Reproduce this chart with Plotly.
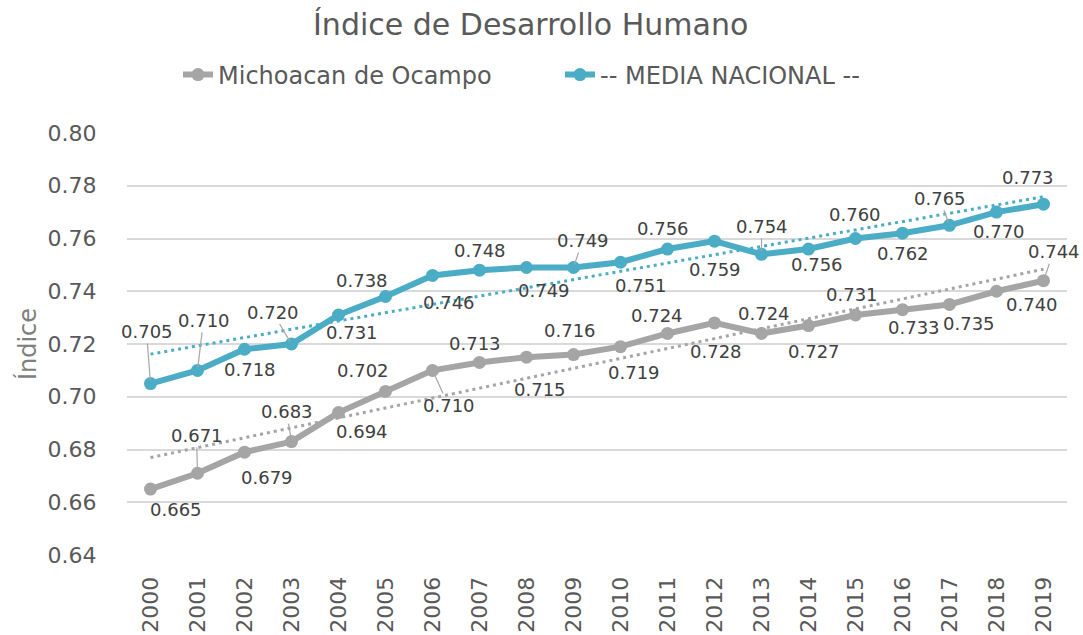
import numpy as np
import plotly.graph_objects as go

years = ["2000", "2001", "2002", "2003", "2004", "2005", "2006", "2007", "2008", "2009",
         "2010", "2011", "2012", "2013", "2014", "2015", "2016", "2017", "2018", "2019"]

michoacan = [0.665, 0.671, 0.679, 0.683, 0.694, 0.702, 0.710, 0.713, 0.715, 0.716,
             0.719, 0.724, 0.728, 0.724, 0.727, 0.731, 0.733, 0.735, 0.740, 0.744]

nacional = [0.705, 0.710, 0.718, 0.720, 0.731, 0.738, 0.746, 0.748, 0.749, 0.749,
            0.751, 0.756, 0.759, 0.754, 0.756, 0.760, 0.762, 0.765, 0.770, 0.773]

# data-label offsets (pixels, label centre relative to point; dy positive = down)
mich_dx = [25, -1, 22, -5, 23, -23, 16, -5, 13, -4, 13, -11, 1, 2, 5, -4, 11, 19, 35, 10]
mich_dy = [20, -38, 25, -30, 19, -21, 35, -19, 32, -24, 26, -18, 29, -20, 26, -20, 18, 19, 13, -29]
mich_leader = [0, 1, 0, 1, 0, 0, 1, 0, 0, 0, 0, 0, 0, 0, 0, 0, 0, 0, 0, 1]

nac_dx = [-4, 6, 5, -19, 13, -24, 16, 0, 17, 9, 20, -5, 0, 0, 8, -1, 0, -10, 2, -16]
nac_dy = [-52, -50, 20, -32, 18, -16, 27, -20, 23, -27, 23, -21, 28, -28, 15, -24, 20, -27, 19, -27]
nac_leader = [1, 1, 0, 1, 0, 0, 0, 0, 0, 1, 0, 0, 0, 1, 0, 0, 0, 1, 0, 0]

GRAY = "#A5A5A5"
BLUE = "#4BACC6"
FONT = "DejaVu Sans"

idx = np.arange(len(years))
mich_fit = np.polyval(np.polyfit(idx, michoacan, 1), idx)
nac_fit = np.polyval(np.polyfit(idx, nacional, 1), idx)

fig = go.Figure()
fig.add_trace(go.Scatter(x=years, y=michoacan, mode="lines+markers", name="Michoacan de Ocampo",
                         line=dict(color=GRAY, width=6), marker=dict(size=13, color=GRAY)))
fig.add_trace(go.Scatter(x=years, y=nacional, mode="lines+markers", name="-- MEDIA NACIONAL --",
                         line=dict(color=BLUE, width=6), marker=dict(size=13, color=BLUE)))
fig.add_trace(go.Scatter(x=years, y=mich_fit, mode="lines", showlegend=False, hoverinfo="skip",
                         line=dict(color=GRAY, width=3, dash="3px,4px")))
fig.add_trace(go.Scatter(x=years, y=nac_fit, mode="lines", showlegend=False, hoverinfo="skip",
                         line=dict(color=BLUE, width=3, dash="3px,4px")))

annotations = []
for vals, dxs, dys, leads in [(michoacan, mich_dx, mich_dy, mich_leader),
                              (nacional, nac_dx, nac_dy, nac_leader)]:
    for i, v in enumerate(vals):
        base = dict(x=i, y=v, text=f"{v:.3f}", xref="x", yref="y",
                    font=dict(family=FONT, size=18, color="#404040"))
        if leads[i]:
            base.update(showarrow=True, ax=dxs[i], ay=dys[i], arrowhead=0, arrowwidth=1.2,
                        arrowcolor="#A6A6A6", standoff=3)
        else:
            base.update(showarrow=False, xshift=dxs[i], yshift=-dys[i])
        annotations.append(base)

fig.update_layout(
    width=1083, height=635,
    margin=dict(l=127, r=16, t=133, b=80),
    paper_bgcolor="white", plot_bgcolor="white",
    font=dict(family=FONT, color="#595959"),
    title=dict(text="Índice de Desarrollo Humano", x=0.49, xanchor="center",
               y=1 - 24 / 635, yanchor="middle", yref="container",
               font=dict(family=FONT, size=30, color="#595959")),
    legend=dict(orientation="h", xref="container", yref="container",
                x=178 / 1083, xanchor="left", y=1 - 75 / 635, yanchor="middle",
                font=dict(family=FONT, size=24, color="#595959"),
                entrywidth=337, entrywidthmode="pixels",
                bgcolor="rgba(0,0,0,0)"),
    xaxis=dict(type="category", range=[-0.5, 19.5], tickangle=-90, showgrid=False,
               showline=False, zeroline=False, ticks="outside", ticklen=12,
               tickcolor="rgba(0,0,0,0)", automargin=False,
               tickfont=dict(family=FONT, size=22, color="#595959")),
    yaxis=dict(range=[0.64, 0.80], dtick=0.02, tickformat=".2f", showgrid=True,
               gridcolor="#D9D9D9", gridwidth=1.5, zeroline=False, showline=False,
               ticks="outside", ticklen=25, tickcolor="rgba(0,0,0,0)", automargin=False,
               tickfont=dict(family=FONT, size=22, color="#595959"),
               title=dict(text="Índice", standoff=4,
                          font=dict(family=FONT, size=24, color="#7F7F7F"))),
    annotations=annotations,
)

fig.write_html("out.html", config={"displayModeBar": False},
               post_script="document.body.style.margin='0';")
